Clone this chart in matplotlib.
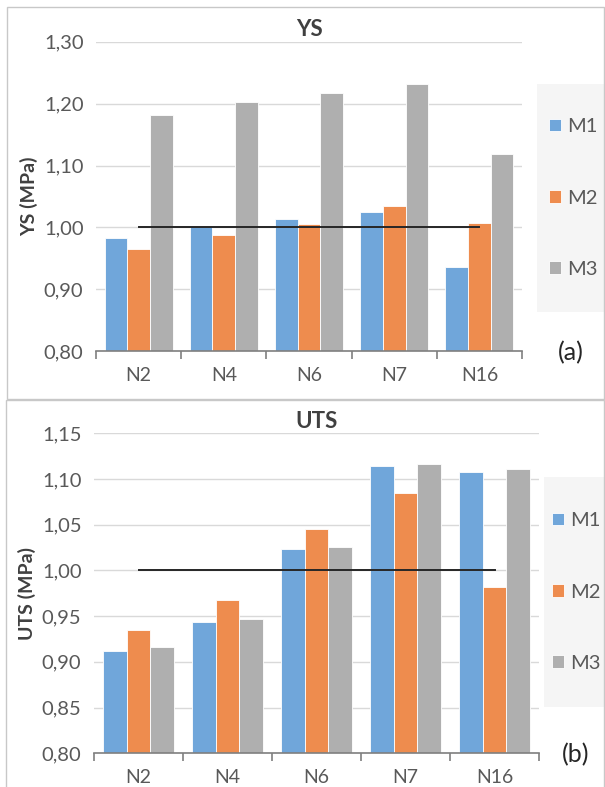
import numpy as np
import matplotlib
matplotlib.use("Agg")
import matplotlib.pyplot as plt
from matplotlib.patches import Rectangle
from matplotlib.ticker import FuncFormatter, MultipleLocator

plt.rcParams['font.family'] = ['Lato', 'DejaVu Sans']

categories = ['N2', 'N4', 'N6', 'N7', 'N16']
series = ['M1', 'M2', 'M3']
ys_m1 = [0.983, 1.003, 1.014, 1.025, 0.936]
ys_m2 = [0.966, 0.988, 1.005, 1.035, 1.007]
ys_m3 = [1.181, 1.203, 1.217, 1.231, 1.119]
uts_m1 = [0.912, 0.944, 1.023, 1.114, 1.108]
uts_m2 = [0.935, 0.968, 1.045, 1.085, 0.982]
uts_m3 = [0.916, 0.947, 1.026, 1.116, 1.111]
reference = [1.00, 1.00, 1.00, 1.00, 1.00]

colors = ['#70a6da', '#ee8c4e', '#afafaf']
txt = '#595959'

W, H = 605, 787
fig = plt.figure(figsize=(W / 100, H / 100), dpi=100)


def fx(px):
    return px / W


def fy(py):
    return 1 - py / H


def panel(box, values, title, ylabel, ylim, step, tag, tagpos, legbox):
    l, t, r, b = box
    ax = fig.add_axes([fx(l), fy(b), fx(r - l), (b - t) / H])
    x = np.arange(len(categories))
    w = 0.8 / 3
    bars = []
    for i, (name, vals) in enumerate(zip(series, values)):
        bc = ax.bar(x + (i - 1) * w, vals, w, color=colors[i], label=name,
                    edgecolor='white', linewidth=0.6, zorder=2)
        bars.append(bc)
    ax.plot(x, reference, color='#262626', lw=1.4, zorder=3)
    ax.set_xlim(-0.5, len(categories) - 0.5)
    ax.set_ylim(*ylim)
    ax.yaxis.set_major_locator(MultipleLocator(step))
    ax.yaxis.set_major_formatter(FuncFormatter(lambda v, p: f"{v:.2f}".replace('.', ',')))
    ax.grid(axis='y', color='#d9d9d9', lw=1, zorder=0)
    ax.set_axisbelow(True)
    for s in ['top', 'right', 'left']:
        ax.spines[s].set_visible(False)
    ax.spines['bottom'].set_color('#7f7f7f')
    ax.spines['bottom'].set_linewidth(1.2)
    ax.set_xticks(x)
    ax.set_xticklabels(categories)
    ax.set_xticks(np.arange(-0.5, len(categories)), minor=True)
    ax.tick_params(axis='x', which='major', length=0, pad=11, labelsize=14, labelcolor=txt)
    ax.tick_params(axis='x', which='minor', length=6, width=1.2, color='#7f7f7f', direction='out')
    ax.tick_params(axis='y', length=0, pad=9, labelsize=14.5, labelcolor=txt)
    ax.set_title(title, fontsize=16, fontweight='bold', color='#404040', pad=4)
    ax.set_ylabel(ylabel, fontsize=14, fontweight='bold', color='#404040', labelpad=4)
    fig.text(fx(tagpos[0]), fy(tagpos[1]), tag, fontsize=18, color='#262626',
             ha='center', va='center')
    lx0, ly0, lx1, ly1 = legbox
    fig.patches.append(Rectangle((fx(lx0), fy(ly1)), fx(lx1 - lx0), (ly1 - ly0) / H,
                                 transform=fig.transFigure, facecolor='#f5f5f5',
                                 edgecolor='none', zorder=0))
    fig.legend(handles=bars, labels=series, loc='center',
               bbox_to_anchor=(fx((lx0 + lx1) / 2 + 2), fy((ly0 + ly1) / 2)),
               frameon=False, fontsize=14.5, labelcolor=txt, labelspacing=2.7,
               handlelength=0.6, handleheight=0.6, handletextpad=0.3)
    return ax


panel((96, 41.7, 522, 351.3), [ys_m1, ys_m2, ys_m3], 'YS', 'YS (MPa)',
      (0.80, 1.30), 0.10, '(a)', (571, 353), (537, 84, 605, 312))
panel((94, 433.3, 539, 753.3), [uts_m1, uts_m2, uts_m3], 'UTS', 'UTS (MPa)',
      (0.80, 1.15), 0.05, '(b)', (576, 755), (544, 477, 605, 707))

# panel frames
fig.patches.append(Rectangle((fx(7), fy(399)), fx(597), 392 / H, transform=fig.transFigure,
                             fill=False, edgecolor='#c8c8c8', lw=1))
fig.patches.append(Rectangle((fx(6), fy(800)), fx(598), 400 / H, transform=fig.transFigure,
                             fill=False, edgecolor='#c8c8c8', lw=1))

fig.savefig('out.png', dpi=100)
